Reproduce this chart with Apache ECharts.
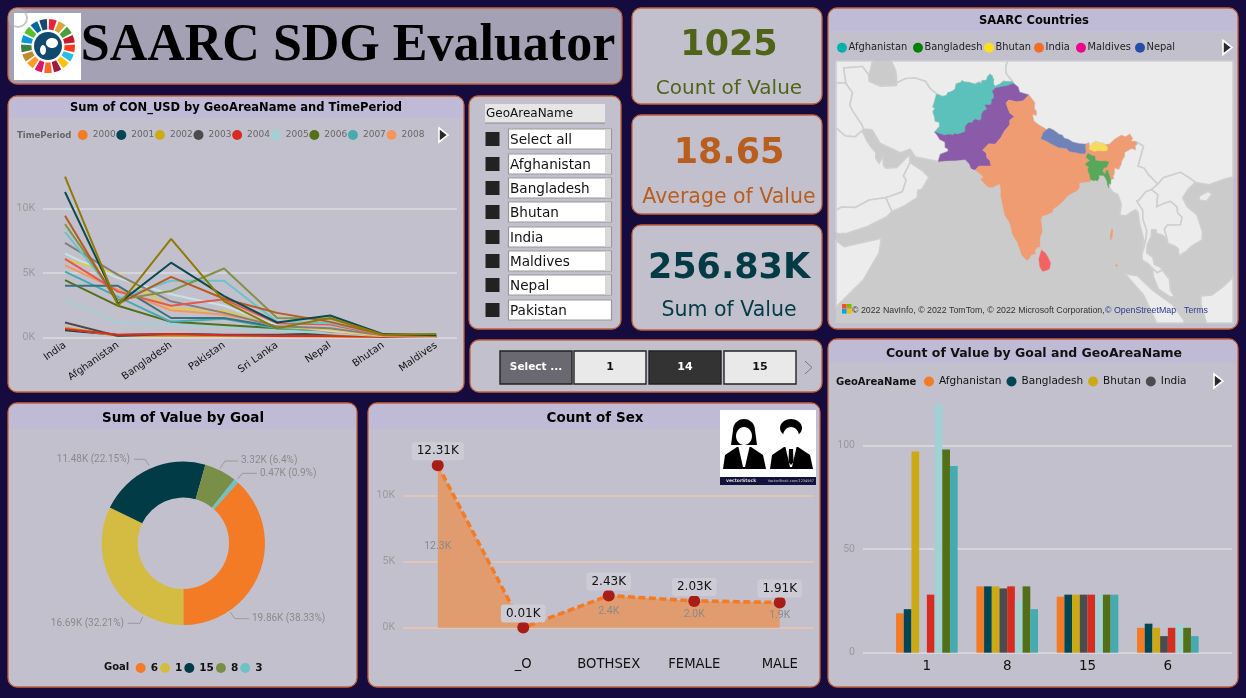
<!DOCTYPE html>
<html>
<head>
<meta charset="utf-8">
<script src="https://cdn.jsdelivr.net/npm/echarts@6/dist/echarts.min.js"></script>
<style>
html,body{margin:0;padding:0;background:#160b3f;overflow:hidden}
#c{width:1246px;height:698px}
</style>
</head>
<body>
<div id="c"></div>
<script>
// ---------- DATA ----------
const lineCategories = ['India','Afghanistan','Bangladesh','Pakistan','Sri Lanka','Nepal','Bhutan','Maldives'];
const usd2000 = [750,150,120,100,80,60,30,20];
const usd2001 = [550,180,250,180,150,300,30,20];
const usd2002 = [700,120,150,120,100,80,30,20];
const usd2003 = [1150,100,250,200,200,300,50,40];
const usd2004 = [650,200,250,150,100,100,40,20];
const usd2005 = [2900,1150,1000,800,550,300,100,50];
const usd2006 = [4450,2450,1200,950,700,550,120,60];
const usd2007 = [5100,3150,1200,1450,700,500,120,60];
const usd2008 = [5600,3700,2100,1750,950,450,100,60];
const usd2009 = [4000,4000,1500,1500,800,600,120,40];
const usd2010 = [6500,4600,3350,2450,950,500,130,70];
const usd2011 = [6050,4950,2250,2050,800,600,100,50];
const usd2012 = [7350,4850,2800,1900,850,700,150,100];
const usd2013 = [6100,3550,2450,2950,1100,1000,150,100];
const usd2014 = [8200,3000,4400,4400,1200,1100,200,150];
const usd2015 = [8800,2900,3600,5350,1500,1450,200,200];
const usd2016 = [9450,2600,4700,3000,1900,1200,200,150];
const usd2017 = [11300,2600,5800,3200,1150,1700,250,150];
const usd2018 = [12500,2450,7650,2800,700,1500,200,250];
const lineYears = ['2000','2001','2002','2003','2004','2005','2006','2007','2008','2009','2010','2011','2012','2013','2014','2015','2016','2017','2018'];
const lineValues = [usd2000,usd2001,usd2002,usd2003,usd2004,usd2005,usd2006,usd2007,usd2008,usd2009,usd2010,usd2011,usd2012,usd2013,usd2014,usd2015,usd2016,usd2017,usd2018];
const lineColors = ['#F37B25','#004753','#CCAA14','#4B4C4E','#D82C20','#A3D0D4','#536F18','#46ABB0','#F5975B','#35737E','#C8E2E4','#E1C94A','#808083','#E5584E','#6CC3C7','#7F9445','#B65C23','#0C4A52','#8F7A00'];
const lineLegendYears = ['2000','2001','2002','2003','2004','2005','2006','2007','2008'];

const goalNames = ['6','1','15','8','3'];
const goalValues = [19860,16690,11480,3320,470];
const goalPercents = ['38.33','32.21','22.15','6.4','0.9'];
const goalColors = ['#F37B25','#D4BB42','#013B45','#798F47','#6DC2C5'];

const sexCategories = ['','_O','BOTHSEX','FEMALE','MALE'];
const sexValues = [12310,10,2430,2030,1910];

const barCategories = ['1','8','15','6'];
const barAfghanistan = [19,32,27,12];
const barBangladesh = [21,32,28,14];
const barBhutan = [97,32,28,12];
const barIndia = [0,31,28,8];
const barMaldives = [28,32,28,12];
const barNepal = [120,25,28,14];
const barPakistan = [98,32,28,12];
const barSriLanka = [90,21,28,8];
const barNames = ['Afghanistan','Bangladesh','Bhutan','India','Maldives','Nepal','Pakistan','Sri Lanka'];
const barSeriesValues = [barAfghanistan,barBangladesh,barBhutan,barIndia,barMaldives,barNepal,barPakistan,barSriLanka];
const barColors = ['#F37B25','#004753','#CCAA14','#4B4C4E','#D82C20','#A3D0D4','#536F18','#46ABB0'];

const slicerItems = ['Select all','Afghanistan','Bangladesh','Bhutan','India','Maldives','Nepal','Pakistan'];
const sliderItems = ['Select ...','1','14','15'];

// Map outlines in longitude / latitude
const ringAfghanistan = [[61.21,35.65],[62.23,35.27],[62.98,35.4],[63.19,35.86],[63.98,36.01],[64.55,36.31],[64.75,37.11],[65.59,37.31],[65.75,37.66],[66.22,37.39],[66.52,37.36],[67.08,37.36],[67.83,37.14],[68.14,37.02],[68.86,37.34],[69.2,37.15],[69.52,37.61],[70.12,37.59],[70.27,37.74],[70.38,38.14],[70.81,38.49],[71.35,38.26],[71.24,37.95],[71.54,37.91],[71.45,37.07],[71.84,36.74],[72.19,36.95],[72.64,37.05],[73.26,37.5],[73.95,37.42],[74.98,37.42],[75.16,37.13],[74.58,37.02],[74.07,36.84],[72.92,36.72],[71.85,36.51],[71.26,36.07],[71.5,35.65],[71.61,35.15],[71.12,34.73],[71.16,34.35],[70.88,33.99],[69.93,34.02],[70.32,33.36],[69.69,33.11],[69.26,32.5],[69.32,31.9],[68.93,31.62],[68.17,31.83],[67.79,31.58],[67.68,31.3],[66.94,31.3],[66.38,30.74],[66.35,29.89],[65.05,29.47],[64.35,29.56],[64.15,29.34],[63.55,29.47],[62.55,29.32],[60.87,29.83],[61.78,30.74],[61.7,31.38],[60.94,31.55],[60.86,32.18],[60.54,32.98],[60.96,33.53],[60.53,33.68],[60.8,34.4]];
const ringPakistan = [[75.16,37.13],[75.9,36.67],[76.19,35.9],[77.84,35.49],[76.87,34.65],[75.76,34.5],[74.24,34.75],[73.75,34.32],[74.1,33.44],[74.45,32.76],[75.26,32.27],[74.41,31.69],[74.42,30.98],[73.45,29.98],[72.82,28.96],[71.78,27.91],[70.62,27.99],[69.51,26.94],[70.17,26.49],[70.28,25.72],[70.84,25.22],[71.04,24.36],[68.84,24.36],[68.18,23.69],[67.44,23.94],[67.15,24.66],[66.37,25.43],[64.53,25.24],[62.91,25.22],[61.5,25.08],[61.87,26.24],[63.32,26.76],[63.23,27.22],[62.76,27.38],[62.73,28.26],[61.77,28.7],[61.37,29.3],[60.87,29.83],[62.55,29.32],[63.55,29.47],[64.15,29.34],[64.35,29.56],[65.05,29.47],[66.35,29.89],[66.38,30.74],[66.94,31.3],[67.68,31.3],[67.79,31.58],[68.17,31.83],[68.93,31.62],[69.32,31.9],[69.26,32.5],[69.69,33.11],[70.32,33.36],[69.93,34.02],[70.88,33.99],[71.16,34.35],[71.12,34.73],[71.61,35.15],[71.5,35.65],[71.26,36.07],[71.85,36.51],[72.92,36.72],[74.07,36.84],[74.58,37.02]];
const ringIndia = [[77.84,35.49],[78.91,34.32],[78.81,33.51],[79.21,32.99],[79.18,32.48],[78.46,32.62],[78.74,31.52],[79.72,30.88],[81.11,30.18],[80.48,29.73],[80.09,28.79],[81.06,28.42],[82,27.93],[83.3,27.36],[84.68,27.23],[85.25,26.73],[86.02,26.63],[87.23,26.4],[88.06,26.41],[88.17,26.81],[88.04,27.45],[88.12,27.88],[88.73,28.09],[88.81,27.3],[88.84,27.1],[89.74,26.72],[90.37,26.88],[91.22,26.81],[92.03,26.84],[92.1,27.45],[91.7,27.77],[92.5,27.9],[93.41,28.64],[94.57,29.28],[95.4,29.03],[96.12,29.45],[96.59,28.83],[96.25,28.41],[97.33,28.26],[97.4,27.88],[97.05,27.7],[97.13,27.08],[96.42,27.26],[95.12,26.57],[95.16,26],[94.6,25.16],[94.55,24.68],[94.11,23.85],[93.33,24.08],[93.29,23.04],[93.06,22.7],[93.17,22.28],[92.67,22.04],[92.15,23.63],[91.87,23.62],[91.71,22.99],[91.16,23.5],[91.47,24.07],[91.92,24.13],[92.38,24.98],[91.8,25.15],[90.87,25.13],[89.92,25.27],[89.83,25.97],[89.36,26.01],[88.56,26.45],[88.21,25.77],[88.93,25.24],[88.31,24.87],[88.08,24.5],[88.7,24.23],[88.53,23.63],[88.88,22.88],[89.03,22.06],[88.89,21.69],[88.21,21.7],[86.98,21.5],[87.03,20.74],[86.5,20.15],[85.06,19.48],[83.94,18.3],[83.19,17.67],[82.19,17.02],[82.19,16.56],[81.69,16.31],[80.79,15.95],[80.32,15.9],[80.03,15.14],[80.23,13.84],[80.29,13.01],[79.86,12.06],[79.86,10.36],[79.34,10.31],[78.89,9.55],[79.19,9.22],[78.28,8.93],[77.94,8.25],[77.54,7.97],[76.59,8.9],[76.13,10.3],[75.75,11.31],[75.4,11.78],[74.86,12.74],[74.62,13.99],[74.44,14.62],[73.53,15.99],[73.12,17.93],[72.82,19.21],[72.82,20.42],[72.63,21.36],[71.18,20.76],[70.47,20.88],[69.16,22.09],[69.64,22.45],[69.35,22.84],[68.18,23.69],[68.84,24.36],[71.04,24.36],[70.84,25.22],[70.28,25.72],[70.17,26.49],[69.51,26.94],[70.62,27.99],[71.78,27.91],[72.82,28.96],[73.45,29.98],[74.42,30.98],[74.41,31.69],[75.26,32.27],[74.45,32.76],[74.1,33.44],[73.75,34.32],[74.24,34.75],[75.76,34.5],[76.87,34.65]];
const ringNepal = [[88.12,27.88],[88.04,27.45],[88.17,26.81],[88.06,26.41],[87.23,26.4],[86.02,26.63],[85.25,26.73],[84.68,27.23],[83.3,27.36],[82,27.93],[81.06,28.42],[80.09,28.79],[80.48,29.73],[81.11,30.18],[81.53,30.42],[82.33,30.12],[83.34,29.46],[83.9,29.32],[84.23,28.84],[85.01,28.64],[85.82,28.2],[86.95,27.97]];
const ringBhutan = [[91.7,27.77],[92.1,27.45],[92.03,26.84],[91.22,26.81],[90.37,26.88],[89.74,26.72],[88.84,27.1],[88.81,27.3],[89.48,28.04],[90.02,28.3],[90.73,28.06],[91.26,28.04]];
const ringBangladesh = [[92.67,22.04],[92.65,21.32],[92.3,21.48],[92.37,20.67],[92.08,21.19],[92.03,21.7],[91.83,22.18],[91.42,22.77],[90.5,22.81],[90.59,22.39],[90.27,21.84],[89.85,22.04],[89.7,21.86],[89.42,21.97],[89.03,22.06],[88.88,22.88],[88.53,23.63],[88.7,24.23],[88.08,24.5],[88.31,24.87],[88.93,25.24],[88.21,25.77],[88.56,26.45],[89.36,26.01],[89.83,25.97],[89.92,25.27],[90.87,25.13],[91.8,25.15],[92.38,24.98],[91.92,24.13],[91.47,24.07],[91.16,23.5],[91.71,22.99],[91.87,23.62],[92.15,23.63]];
const ringSriLanka = [[81.79,7.52],[81.64,6.48],[81.22,6.2],[80.35,5.97],[79.87,6.76],[79.7,8.2],[80.15,9.82],[80.84,9.27],[81.3,8.56]];
const ringAndaman = [[92.65,11.6],[92.95,12.1],[93.05,13.5],[92.85,13.5],[92.6,12.4]];
const ringNicobar = [[93.65,7.3],[93.95,7],[93.85,6.8],[93.6,7]];
const ringSea = [[43,-3.4],[114.8,-3.4],[114.8,40.36],[43,40.36]];
const ringTurkey = [[43,40.36],[49.6,40.36],[49.2,39],[48.9,38.4],[47.8,39.6],[44.4,39.4],[44.8,37.2],[43,37.3]];
const ringIraq = [[43,37.3],[44.8,37.2],[46,35.8],[45.5,34],[46.1,33],[47.7,31],[48,30.3],[47.7,30],[46.5,29.1],[44.7,29.2],[43,30.5]];
const ringSaudi = [[43,30.5],[44.7,29.2],[46.5,29.1],[47.7,30],[48.1,29.4],[48.6,28.4],[49.5,27.3],[50.2,26.6],[50.2,25.6],[50.8,24.8],[51.5,26],[51.6,24.5],[52,24],[54,24.1],[55.5,25.5],[56.3,26.2],[56.4,24.9],[55.2,22.7],[55.7,22],[55,20],[52,19],[49,18.6],[46.5,17.3],[44,17.4],[43,16.8]];
const ringOman = [[56.4,24.9],[58.6,23.6],[59.8,22.5],[58.6,20.5],[57.8,20.2],[57.7,19],[55.2,17.5],[53.1,16.6],[52,19],[55,20],[55.7,22],[55.2,22.7]];
const ringYemen = [[53.1,16.6],[52.2,15.7],[48.7,14],[45,12.8],[43.4,12.7],[43,13],[43,16.8],[44,17.4],[46.5,17.3],[49,18.6],[52,19]];
const ringIran = [[44.4,39.4],[44.8,37.2],[46,35.8],[45.5,34],[46.1,33],[47.7,31],[48,30.3],[49.5,30.2],[51,28],[52.5,27.4],[54.7,26.5],[56.4,27.1],[57.4,25.8],[61.5,25.08],[61.87,26.24],[63.32,26.76],[63.23,27.22],[62.76,27.38],[62.73,28.26],[61.77,28.7],[61.37,29.3],[60.87,29.83],[61.78,30.74],[61.7,31.38],[60.94,31.55],[60.86,32.18],[60.54,32.98],[60.96,33.53],[60.53,33.68],[60.8,34.4],[61.21,35.65],[60,36.5],[59.2,37.5],[57.3,38],[55.5,37.9],[54,37.3],[53.9,36.9],[51,36.8],[49,37.5],[48.9,38.4],[47.8,39.6]];
const ringCentralAsia = [[53,40.36],[53.8,39],[54,37.3],[55.5,37.9],[57.3,38],[59.2,37.5],[60,36.5],[61.21,35.65],[62.23,35.27],[62.98,35.4],[63.98,36.01],[64.55,36.31],[64.75,37.11],[65.59,37.31],[66.52,37.36],[67.83,37.14],[68.86,37.34],[69.52,37.61],[70.12,37.59],[70.81,38.49],[71.24,37.95],[71.45,37.07],[71.84,36.74],[72.64,37.05],[73.26,37.5],[74.98,37.42],[73.8,38.6],[73.7,39.5],[74,40.36]];
const ringChina = [[74,40.36],[114.8,40.36],[114.8,22.5],[113.5,22.2],[110.5,21.2],[108,21.6],[106.7,22.5],[105.3,23.3],[102.2,22.4],[101.2,21.3],[99.5,22.9],[98.7,24],[97.6,24.3],[98.6,27.6],[97.33,28.26],[96.25,28.41],[96.59,28.83],[96.12,29.45],[95.4,29.03],[94.57,29.28],[93.41,28.64],[92.5,27.9],[91.7,27.77],[91.26,28.04],[90.73,28.06],[90.02,28.3],[89.48,28.04],[88.81,27.3],[88.73,28.09],[88.12,27.88],[86.95,27.97],[85.82,28.2],[85.01,28.64],[84.23,28.84],[83.9,29.32],[83.34,29.46],[82.33,30.12],[81.53,30.42],[81.11,30.18],[79.72,30.88],[78.74,31.52],[78.46,32.62],[79.18,32.48],[79.21,32.99],[78.81,33.51],[78.91,34.32],[77.84,35.49],[76.19,35.9],[75.9,36.67],[75.16,37.13],[74.98,37.42],[73.8,38.6],[73.7,39.5]];
const ringMyanmar = [[92.67,22.04],[93.17,22.28],[93.06,22.7],[93.29,23.04],[93.33,24.08],[94.11,23.85],[94.55,24.68],[94.6,25.16],[95.16,26],[95.12,26.57],[96.42,27.26],[97.13,27.08],[97.05,27.7],[97.4,27.88],[97.33,28.26],[98.6,27.6],[97.6,24.3],[98.7,24],[99.5,22.9],[101.2,21.3],[100.1,20.4],[99,20],[97.8,18.6],[97.4,18.4],[98.5,16.8],[98.5,15.3],[99.2,13.3],[99.1,12],[98.7,10.3],[98.5,9.9],[98.7,11.5],[97.9,14.5],[97.6,16.5],[97.2,16.9],[96.4,16.5],[95.4,15.8],[94.3,16],[94.6,17.8],[94,19.5],[93,20],[92.3,20.9],[92.65,21.32]];
const ringThailand = [[100.1,20.4],[101.2,19.5],[101,17.5],[102.2,18],[103.5,18.4],[104.7,17.4],[104.8,16.4],[105.6,15.6],[105.3,14.3],[102.9,14.2],[102.4,13.5],[102.9,11.7],[102,12.5],[100.9,12.8],[100.9,13.4],[100.1,13.4],[100,12.2],[99.3,10.8],[99.2,9.3],[100.3,8.5],[100.6,7.2],[101.7,6.7],[102,6.2],[101.1,5.7],[100.2,6.5],[99.5,7.3],[98.4,8],[98.3,9],[98.7,10.3],[99.1,12],[99.2,13.3],[98.5,15.3],[98.5,16.8],[97.4,18.4],[97.8,18.6],[99,20]];
const ringIndochina = [[101.2,21.3],[102.2,22.4],[105.3,23.3],[106.7,22.5],[108,21.6],[106.7,20.5],[105.7,19],[106.5,17.5],[108.3,16],[109.3,13],[109.2,11.6],[107.2,10.4],[106.4,9.6],[105,8.7],[104.9,10],[104.3,10.5],[103,11],[102.9,11.7],[102.4,13.5],[102.9,14.2],[105.3,14.3],[105.6,15.6],[104.8,16.4],[104.7,17.4],[103.5,18.4],[102.2,18],[101,17.5],[101.2,19.5],[100.1,20.4]];
const ringMalaya = [[102,6.2],[103.3,4.6],[103.5,2.6],[104.2,1.4],[103.5,1.3],[101.3,2.8],[100.4,5],[100.2,6.5],[101.1,5.7]];
const ringSumatra = [[95.3,5.5],[97.5,5.2],[100.3,2.5],[103.8,0],[106,-3],[105.8,-3.4],[101,-3.4],[98.6,1.7]];
const ringBorneo = [[109,1.5],[111,1.7],[113,3.2],[114.8,4.9],[114.8,-3.4],[110,-3.4],[109,0]];
const ringHainan = [[108.7,19.3],[110.3,20.1],[111,19.6],[110,18.4],[108.7,18.6]];
const ringAfrica = [[43,11.5],[44.5,10.4],[51.2,11.9],[50.8,9.3],[48,4.5],[43,-0.5]];
const backgroundLand = {Sea:ringSea,Turkey:ringTurkey,Iraq:ringIraq,Saudi:ringSaudi,Oman:ringOman,Yemen:ringYemen,Iran:ringIran,CentralAsia:ringCentralAsia,China:ringChina,Myanmar:ringMyanmar,Thailand:ringThailand,Indochina:ringIndochina,Malaya:ringMalaya,Sumatra:ringSumatra,Borneo:ringBorneo,Hainan:ringHainan,Africa:ringAfrica};
const saarcShapes = {Afghanistan:ringAfghanistan,Pakistan:ringPakistan,India:ringIndia,Nepal:ringNepal,Bhutan:ringBhutan,Bangladesh:ringBangladesh,'Sri Lanka':ringSriLanka,Andaman:ringAndaman,Nicobar:ringNicobar};
const saarcFill = {Afghanistan:'#5CC0BB',Pakistan:'#8A5BA8',India:'#EF9C72',Nepal:'#6F83B9',Bhutan:'#F5DC5C',Bangladesh:'#58A85B','Sri Lanka':'#F46262',Andaman:'#EF9C72',Nicobar:'#EF9C72'};
const mapLegendNames = ['Afghanistan','Bangladesh','Bhutan','India','Maldives','Nepal'];
const mapLegendColors = ['#01B0A8','#008000','#FFDF1B','#F46D25','#F0058A','#254EA6'];
const mapLegendX = [842,918,989,1039,1081,1140];

// ---------- STYLE ----------
const FONT = '"DejaVu Sans"';
const AXISFONT = 'Roboto';
const PANEL = '#c3c0ce', BAND = '#bfbbd6', EDGE = '#c4623a';
const g = [];
function panel(x0,y0,x1,y1,bandH,fill){
  g.push({type:'rect',silent:true,z:-5,shape:{x:x0,y:y0,width:x1-x0,height:y1-y0,r:9},style:{fill:fill||PANEL,stroke:EDGE,lineWidth:1.3}});
  if(bandH) g.push({type:'rect',silent:true,z:-4,shape:{x:x0+1,y:y0+1,width:x1-x0-2,height:bandH,r:[8,8,0,0]},style:{fill:BAND}});
}
function txt(s,x,y,size,color,opt){
  opt=opt||{};
  g.push({type:'text',silent:true,z:6,x:x,y:y,style:{text:s,fill:color,font:(opt.weight||'normal')+' '+size+'px '+(opt.family||FONT),textAlign:opt.align||'center',textVerticalAlign:'middle',align:opt.align||'center',verticalAlign:'middle',textDecoration:opt.deco}});
}
function box(x,y,w,h,fill,stroke,lw,z){
  g.push({type:'rect',silent:true,z:z||3,shape:{x:x,y:y,width:w,height:h},style:{fill:fill,stroke:stroke||null,lineWidth:lw||0}});
}
function pagerArrow(x,y){
  g.push({type:'polygon',silent:true,z:6,shape:{points:[[x-4,y-7],[x+5,y],[x-4,y+7]]},style:{fill:'#2a2a2a',stroke:'#fff',lineWidth:1.6}});
}
function dot(x,y,r,color){ g.push({type:'circle',silent:true,z:6,shape:{cx:x,cy:y,r:r},style:{fill:color}}); }

// panels
panel(8,8,622,84,0,'#a5a1b5');
panel(632,8,822,104); panel(632,115,822,214); panel(632,225,822,330);
panel(8,96,464,392,21);
panel(469,96,621,329);
panel(470,340,822,392);
panel(828,8,1238,329,22);
panel(828,339,1238,687,23);
panel(8,403,357,687,25);
panel(368,403,820,687,25);

// header
box(14,13,67,67,'#fff');
const sdg=['#e5243b','#dda63a','#4c9f38','#c5192d','#ff3a21','#26bde2','#fcc30b','#a21942','#fd6925','#dd1367','#fd9d24','#bf8b2e','#3f7e44','#0a97d9','#56c02b','#00689d','#19486a'];
sdg.forEach((c,i)=>{const a=-Math.PI/2+i*2*Math.PI/17;
  g.push({type:'sector',silent:true,z:4,shape:{cx:48,cy:46,r:27,r0:16.5,startAngle:a+0.04,endAngle:a+2*Math.PI/17-0.04},style:{fill:c}});});
g.push({type:'circle',silent:true,z:4,shape:{cx:48,cy:46,r:14},style:{fill:'#124a6e'}});
g.push({type:'ellipse',silent:true,z:5,shape:{cx:52,cy:43,rx:6,ry:5},style:{fill:'#fff'}});
g.push({type:'ellipse',silent:true,z:5,shape:{cx:43,cy:50,rx:3,ry:5},style:{fill:'#fff'}});
g.push({type:'circle',silent:true,z:7,shape:{cx:18,cy:18,r:9},style:{fill:'rgba(255,255,255,0.06)',stroke:'rgba(175,175,175,0.7)',lineWidth:2}});
txt('SAARC SDG Evaluator',348,47,52,'#000',{weight:'bold',family:'"Liberation Serif"'});

// KPI cards
txt('1025',729,46,35,'#4F6419',{weight:'bold'});
txt('Count of Value',729,89,20,'#4F6419');
txt('18.65',729,154,35,'#B85E1F',{weight:'bold'});
txt('Average of Value',729,198,20.5,'#B85E1F');
txt('256.83K',729,269,35,'#023B45',{weight:'bold'});
txt('Sum of Value',729,311,20.5,'#023B45');

// chart titles
txt('Sum of CON_USD by GeoAreaName and TimePeriod',236,108,11.5,'#000',{weight:'bold'});
txt('SAARC Countries',1034,21,11.5,'#000',{weight:'bold'});
txt('Count of Value by Goal and GeoAreaName',1034,354,12.5,'#111',{weight:'bold'});
txt('Sum of Value by Goal',183,418,13.5,'#000',{weight:'bold'});
txt('Count of Sex',595,418,13.5,'#000',{weight:'bold'});

// legend captions and pager arrows
txt('TimePeriod',17,135.5,8.5,'#666',{weight:'bold',align:'left'});
txt('GeoAreaName',836,382,10,'#111',{weight:'bold',align:'left'});
txt('Goal',104,667.5,10,'#111',{weight:'bold',align:'left'});
pagerArrow(443,135); pagerArrow(1227,47.5); pagerArrow(1218,381);

// map legend
mapLegendNames.forEach((n,i)=>{dot(mapLegendX[i],47.7,5,mapLegendColors[i]);txt(n,mapLegendX[i]+6.5,47.5,9.9,'#222',{align:'left'});});
// map attribution
[['#F25022',842,304],['#7FBA00',847,304],['#00A4EF',842,309],['#FFB900',847,309]].forEach(a=>box(a[1],a[2],4.6,4.6,a[0],null,0,6));
txt('© 2022 NavInfo, © 2022 TomTom, © 2022 Microsoft Corporation,',852,311,8.8,'#333',{align:'left',family:'"Liberation Sans"'});
txt('© OpenStreetMap',1105,311,8.8,'#2a3a8c',{align:'left',family:'"Liberation Sans"',deco:'underline'});
txt('Terms',1184,311,8.8,'#2a3a8c',{align:'left',family:'"Liberation Sans"',deco:'underline'});

// slicer
box(485,104,120,19,'#e6e6e6');
box(485,122.5,120,1,'#888');
txt('GeoAreaName',486,113.5,12,'#111',{align:'left'});
const slicerY=[139,164,188,212,237,261,285,310];
slicerItems.forEach((s,i)=>{
  box(485.5,slicerY[i]-7,14,14,'#222');
  box(508.5,slicerY[i]-10,103,20,'#fff','#999',1.2);
  if(i<7) box(605,slicerY[i]-9.4,6,18.8,'#d8d8d8');
  txt(s,510,slicerY[i]+1,13.6,'#111',{align:'left'});
});

// slider
const sliderX=[500,574,649,724];
const sliderFill=['#6a6870','#e9e9e9','#333333','#e9e9e9'];
const sliderText=['#fff','#111','#fff','#111'];
sliderItems.forEach((s,i)=>{
  box(sliderX[i],351,72,33,sliderFill[i],'#222',1.4);
  txt(s,sliderX[i]+36,367.5,i==0?10.5:11,sliderText[i],{weight:'bold'});
});
g.push({type:'polyline',silent:true,z:6,shape:{points:[[805,361],[812,367.5],[805,374]]},style:{stroke:'#777',fill:null,lineWidth:1}});

// people image
box(720,410,96,75,'#fff',null,0,4);
box(720,477,96,8,'#12123a',null,0,5);
txt('vectorStock',726,481,4.5,'#ddd',{align:'left',weight:'bold'});
txt('VectorStock.com/1234567',814,481,3.5,'#ccc',{align:'right'});
function person(cx,female){
  const jacket=[[cx-21,469],[cx-19,455],[cx-7,447],[cx+7,447],[cx+19,455],[cx+22,469]];
  if(female){
    g.push({type:'ellipse',silent:true,z:5,shape:{cx:cx,cy:430,rx:11,ry:11},style:{fill:'#000'}});
    g.push({type:'polygon',silent:true,z:5,shape:{points:[[cx-11,430],[cx+11,430],[cx+13,445],[cx-13,445]]},style:{fill:'#000'}});
  } else {
    g.push({type:'ellipse',silent:true,z:5,shape:{cx:cx,cy:428,rx:11,ry:9},style:{fill:'#000'}});
  }
  g.push({type:'polygon',silent:true,z:5,shape:{points:jacket},style:{fill:'#000'}});
  g.push({type:'ellipse',silent:true,z:6,shape:{cx:cx,cy:436,rx:8,ry:9},style:{fill:'#fff'}});
  g.push({type:'polygon',silent:true,z:6,shape:{points:[[cx-6,445],[cx+6,445],[cx+1,467],[cx-1,467]]},style:{fill:'#fff'}});
  if(!female) g.push({type:'polygon',silent:true,z:7,shape:{points:[[cx-2,449],[cx+2,449],[cx+2.5,462],[cx,465],[cx-2.5,462]]},style:{fill:'#000'}});
}
person(744,true); person(791,false);

// ---------- MAP ----------
const merc = lat => Math.log(Math.tan(Math.PI/4 + lat*Math.PI/360))*180/Math.PI;
const imerc = y => (2*Math.atan(Math.exp(y*Math.PI/180))-Math.PI/2)*180/Math.PI;
const feat = (name,ring)=>({type:'Feature',properties:{name:name},geometry:{type:'Polygon',coordinates:[ring.concat([ring[0]])]}});
const features = Object.keys(backgroundLand).map(n=>feat(n,backgroundLand[n])).concat(Object.keys(saarcShapes).map(n=>feat(n,saarcShapes[n])));
echarts.registerMap('saarc',{type:'FeatureCollection',features:features});
const mapRegions = [{name:'Sea',itemStyle:{areaColor:'#cbcbcb',borderColor:'#cbcbcb',borderWidth:0}}]
  .concat(Object.keys(saarcFill).map(n=>({name:n,itemStyle:{areaColor:saarcFill[n],borderColor:saarcFill[n],borderWidth:0.4}})));

// ---------- CHART ----------
const chart = echarts.init(document.getElementById('c'),null,{renderer:'canvas'});
const kFmt = v => (v/1000)+'K';
const axisLabelGrey = {color:'#999',fontFamily:AXISFONT,fontSize:10.5,margin:8,showMaxLabel:false};
function bgGrid(left,right,top,bottom){return {left:left,width:right-left,top:top,height:bottom-top,outerBoundsMode:'none'};}

const grids=[
  bgGrid(43,457,144.4,337.3), bgGrid(38.5,462.7,144.4,337.3),
  bgGrid(863,1232,341.7,652.7), bgGrid(886.7,1208,341.7,652.7),
  bgGrid(403,814,429.7,627.7), bgGrid(395,822.5,429.7,627.7)
];
function valueAxisPair(bgIndex,max,interval,fmt,lineColor){
  return [
    {type:'value',gridIndex:bgIndex,min:0,max:max,interval:interval,axisLine:{show:false},axisTick:{show:false},
     axisLabel:Object.assign({},axisLabelGrey,{formatter:fmt}),splitLine:{show:true,showMaxLine:false,lineStyle:{color:lineColor,width:1.5}}},
    {type:'value',gridIndex:bgIndex+1,min:0,max:max,interval:interval,show:false,splitLine:{show:false}}
  ];
}
const catBase = {type:'category',axisLine:{show:false},axisTick:{show:false}};
const xAxes=[
  {type:'value',gridIndex:0,min:0,max:1,show:false,splitLine:{show:false}},
  Object.assign({},catBase,{gridIndex:1,data:lineCategories,axisLabel:{color:'#111',fontFamily:FONT,fontSize:10,rotate:35,margin:7,interval:0}}),
  {type:'value',gridIndex:2,min:0,max:1,show:false,splitLine:{show:false}},
  Object.assign({},catBase,{gridIndex:3,data:barCategories,axisLabel:{color:'#111',fontFamily:FONT,fontSize:13.5,margin:7,interval:0}}),
  {type:'value',gridIndex:4,min:0,max:1,show:false,splitLine:{show:false}},
  Object.assign({},catBase,{gridIndex:5,data:sexCategories,axisLabel:{color:'#111',fontFamily:FONT,fontSize:13.2,margin:30,interval:0}})
];
const yAxes=[].concat(
  valueAxisPair(0,15000,5000,kFmt,'#dddde2'),
  valueAxisPair(2,150,50,v=>v,'#dddde2'),
  valueAxisPair(4,15000,5000,kFmt,'#ecc6ae')
);

const series=[];
lineYears.forEach((y,i)=>series.push({type:'line',name:y,xAxisIndex:1,yAxisIndex:1,data:lineValues[i],symbol:'none',silent:true,animation:false,
  lineStyle:{color:lineColors[i],width:2},itemStyle:{color:lineColors[i]}}));
barNames.forEach((n,i)=>series.push({type:'bar',name:n,xAxisIndex:3,yAxisIndex:3,data:barSeriesValues[i],barWidth:7.7,barGap:0,silent:true,animation:false,itemStyle:{color:barColors[i]}}));
series.push({type:'line',name:'Count of Sex',xAxisIndex:5,yAxisIndex:5,data:sexValues,animation:false,silent:true,
  symbol:'circle',symbolSize:12,itemStyle:{color:'#A81E16'},
  lineStyle:{color:'#F37B25',width:3.6,type:[7,3.5]},areaStyle:{color:'#E09C6F',opacity:1},
  label:{show:true,position:'top',distance:-1,color:'#111',fontFamily:FONT,fontSize:12,backgroundColor:'#cdcbd6',borderRadius:3,padding:[3,5],
    formatter:p=>(p.value/1000).toFixed(2)+'K'},z:3});
series.push({type:'line',name:'Sex value labels',xAxisIndex:5,yAxisIndex:5,data:sexValues.map(v=>v/2),animation:false,silent:true,
  symbol:'circle',symbolSize:1,itemStyle:{color:'rgba(0,0,0,0)'},lineStyle:{opacity:0},
  label:{show:true,position:'inside',color:'#8a8a8a',fontFamily:AXISFONT,fontSize:10.5,
    formatter:p=>sexValues[p.dataIndex]<100?'':(sexValues[p.dataIndex]/1000).toFixed(1)+'K'},z:4});

// where each pie label and its leader sit: [label x, label y, align, leader points]
const pieLabelSpots = [
  [252,618.5,'left',[[230,612],[235,618.7],[249,618.7]]],
  [124,623,'right',[[142.7,616.7],[140,623.3],[127.7,623.3]]],
  [130,459.5,'right',[[149.3,465.7],[145,459.3],[134,459.3]]],
  [241,460.5,'left',[[220,468.3],[225,461],[238,461]]],
  [260,473,'left',[[237.7,479],[242.3,473.3],[257,473.3]]]
];
series.push({type:'pie',name:'Sum of Value by Goal',center:[183.3,543.3],radius:[45.7,81.7],startAngle:48,clockwise:true,animation:false,silent:true,
  data:goalNames.map((n,i)=>({name:n,value:goalValues[i],itemStyle:{color:goalColors[i]}})),
  label:{show:true,position:'outside',color:'#8a8a8a',fontFamily:AXISFONT,fontSize:10,
    formatter:p=>(goalValues[p.dataIndex]/1000).toFixed(2)+'K ('+goalPercents[p.dataIndex]+'%)'},
  labelLine:{show:true,length:9,length2:9,lineStyle:{color:'#9a9a9a',width:1}},
  labelLayout:p=>{const s=pieLabelSpots[p.dataIndex];return {x:s[0],y:s[1],align:s[2],verticalAlign:'middle',labelLinePoints:s[3]};}});

const option={
  backgroundColor:'#160b3f',
  animation:false,
  grid:grids, xAxis:xAxes, yAxis:yAxes, series:series,
  geo:{map:'saarc',silent:true,roam:false,left:836,top:61,width:397,height:262,
    projection:{project:p=>[p[0],-merc(p[1])],unproject:p=>[p[0],imerc(-p[1])]},
    label:{show:false},
    itemStyle:{areaColor:'#ececec',borderColor:'#cfcfcf',borderWidth:1.6},
    emphasis:{disabled:true},select:{disabled:true},
    regions:mapRegions},
  legend:[
    {data:lineLegendYears,left:77.7,top:130,padding:0,itemGap:0.7,itemWidth:10,itemHeight:10,icon:'circle',selectedMode:false,
      textStyle:{color:'#666',fontFamily:FONT,fontSize:9}},
    {data:barNames.slice(0,4),left:924,top:376,padding:0,itemGap:5,itemWidth:10,itemHeight:10,icon:'circle',selectedMode:false,
      textStyle:{color:'#111',fontFamily:FONT,fontSize:10.5}},
    {data:goalNames,left:135.7,top:662.5,padding:0,itemGap:2,itemWidth:10,itemHeight:10,icon:'circle',selectedMode:false,
      textStyle:{color:'#111',fontFamily:FONT,fontSize:10.5,fontWeight:'bold'}}
  ],
  graphic:{elements:g}
};
chart.setOption(option);
</script>
</body>
</html>
